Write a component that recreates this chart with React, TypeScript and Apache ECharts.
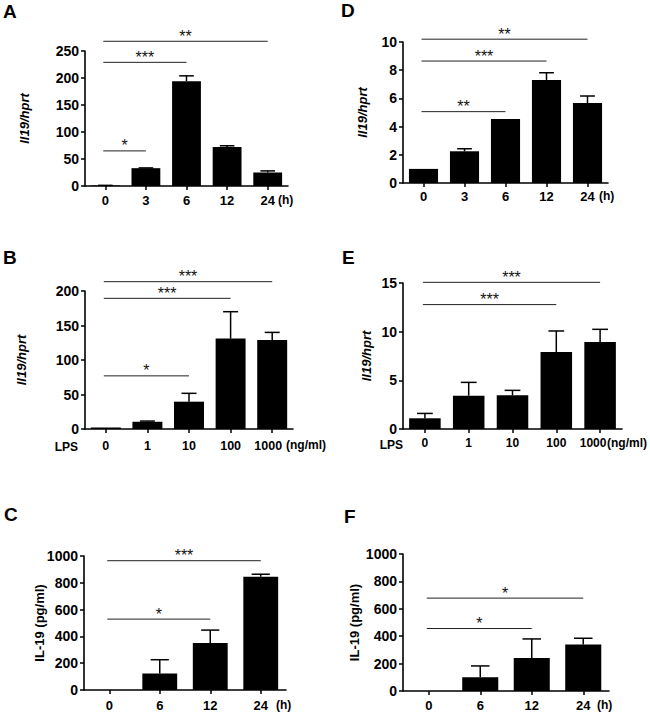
import React, { useEffect, useRef } from "react";
import * as echarts from "echarts";

// ---------- DATA ----------
const catsTime5 = ["0", "3", "6", "12", "24"];
const catsLps = ["0", "1", "10", "100", "1000"];
const catsTime4 = ["0", "6", "12", "24"];

const meanA = [1, 33, 194, 72, 25];
const upperA = [1.2, 33.5, 204, 74.5, 28];
const sigA: [number, number, number][] = [[0, 4, 268], [0, 2, 229], [0, 1, 65]];
const starsA = ["**", "***", "*"];

const meanD = [1.0, 2.25, 4.54, 7.3, 5.67];
const upperD = [1.0, 2.43, 4.54, 7.82, 6.17];
const sigD: [number, number, number][] = [[0, 4, 10.2], [0, 3, 8.65], [0, 2, 5.06]];
const starsD = ["**", "***", "**"];

const meanB = [2, 10.5, 39.6, 131, 129];
const upperB = [2, 11.5, 51.7, 170, 140];
const sigB: [number, number, number][] = [[0, 4, 213.5], [0, 3, 189.4], [0, 2, 77]];
const starsB = ["***", "***", "*"];

const meanE = [1.1, 3.42, 3.46, 7.91, 8.94];
const upperE = [1.6, 4.79, 3.97, 10.07, 10.24];
const sigE: [number, number, number][] = [[0, 4, 15.07], [0, 3, 12.78]];
const starsE = ["***", "***"];

const meanC = [0, 123, 350, 845];
const upperC = [0, 226, 447, 864];
const sigC: [number, number, number][] = [[0, 3, 965], [0, 2, 529]];
const starsC = ["***", "*"];

const meanF = [0, 100, 241, 339];
const upperF = [0, 183, 380, 385];
const sigF: [number, number, number][] = [[0, 3, 678], [0, 2, 456]];
const starsF = ["*", "*"];

const yTicksA = { max: 250, interval: 50 };
const yTicksD = { max: 10, interval: 2 };
const yTicksB = { max: 200, interval: 50 };
const yTicksE = { max: 15, interval: 5 };
const yTicksC = { max: 1000, interval: 200 };
const yTicksF = { max: 1000, interval: 200 };

const FONT = "'Liberation Sans', Arial, Helvetica, sans-serif";

type Panel = {
  letter: string;
  letterPos: [number, number];
  cats: string[];
  mean: number[];
  upper: number[];
  sig: [number, number, number][];
  stars: string[];
  yt: { max: number; interval: number };
  yName: string;
  italic: boolean;
  unit: string;
  unitGap: number;
  lps: boolean;
  lpsPos?: [number, number];
  grid: { left: number; top: number; width: number; height: number };
  nameGap: number;
  labelMargin: number;
  barWidth: string;
  labelSize: number;
  lastShift: number;
};

const panels: Panel[] = [
  {
    letter: "A", letterPos: [3, 2], cats: catsTime5, mean: meanA, upper: upperA, sig: sigA, stars: starsA,
    yt: yTicksA, yName: "Il19/hprt", italic: true, unit: "(h)", unitGap: -10, lps: false,
    grid: { left: 85, top: 51, width: 203, height: 135 }, nameGap: 54, labelMargin: 8, barWidth: "71%",
    labelSize: 13, lastShift: 0,
  },
  {
    letter: "D", letterPos: [341, 1], cats: catsTime5, mean: meanD, upper: upperD, sig: sigD, stars: starsD,
    yt: yTicksD, yName: "Il19/hprt", italic: true, unit: "(h)", unitGap: -9, lps: false,
    grid: { left: 403, top: 42, width: 205, height: 141 }, nameGap: 34, labelMargin: 7, barWidth: "71%",
    labelSize: 13, lastShift: 0,
  },
  {
    letter: "B", letterPos: [3, 248], cats: catsLps, mean: meanB, upper: upperB, sig: sigB, stars: starsB,
    yt: yTicksB, yName: "Il19/hprt", italic: true, unit: "(ng/ml)", unitGap: -7, lps: true, lpsPos: [78, 447],
    grid: { left: 85, top: 291, width: 208, height: 138 }, nameGap: 57, labelMargin: 10, barWidth: "72%",
    labelSize: 12.5, lastShift: 4,
  },
  {
    letter: "E", letterPos: [342, 248], cats: catsLps, mean: meanE, upper: upperE, sig: sigE, stars: starsE,
    yt: yTicksE, yName: "Il19/hprt", italic: true, unit: "(ng/ml)", unitGap: -15, lps: true, lpsPos: [403, 445],
    grid: { left: 403, top: 283, width: 219, height: 146 }, nameGap: 30, labelMargin: 8, barWidth: "72%",
    labelSize: 12, lastShift: 7,
  },
  {
    letter: "C", letterPos: [4, 505], cats: catsTime4, mean: meanC, upper: upperC, sig: sigC, stars: starsC,
    yt: yTicksC, yName: "IL-19 (pg/ml)", italic: false, unit: "(h)", unitGap: -10, lps: false,
    grid: { left: 84, top: 556, width: 202, height: 134 }, nameGap: 38, labelMargin: 9, barWidth: "69%",
    labelSize: 13, lastShift: 0,
  },
  {
    letter: "F", letterPos: [344, 507], cats: catsTime4, mean: meanF, upper: upperF, sig: sigF, stars: starsF,
    yt: yTicksF, yName: "IL-19 (pg/ml)", italic: false, unit: "(h)", unitGap: -12, lps: false,
    grid: { left: 403, top: 554, width: 206, height: 137 }, nameGap: 42, labelMargin: 8, barWidth: "70%",
    labelSize: 13, lastShift: 0,
  },
];

function buildOption() {
  const grid: any[] = [];
  const xAxis: any[] = [];
  const yAxis: any[] = [];
  const series: any[] = [];
  const graphic: any[] = [];

  panels.forEach((p, i) => {
    grid.push({ ...p.grid, outerBoundsMode: "none", containLabel: false });
    const lastIdx = p.cats.length - 1;
    xAxis.push({
      type: "category",
      gridIndex: i,
      data: p.cats,
      name: p.unit,
      nameLocation: "end",
      nameGap: p.unitGap,
      nameMoveOverlap: false,
      nameTextStyle: {
        fontFamily: FONT, fontWeight: "bold", fontSize: 12, color: "#000",
        align: "left", verticalAlign: "top", padding: [p.labelMargin, 0, 0, 0],
      },
      axisLine: { lineStyle: { color: "#000", width: 1.6 } },
      axisTick: { show: true, alignWithLabel: true, interval: 0, length: 4, lineStyle: { color: "#000", width: 1.5 } },
      axisLabel: {
        interval: 0,
        fontFamily: FONT, fontWeight: "bold", fontSize: p.labelSize, color: "#000", margin: p.labelMargin,
        hideOverlap: false,
        formatter: (v: string, idx: number) => (idx === lastIdx && p.lastShift > 0 ? `{s|${v}}` : v),
        rich: {
          s: {
            fontFamily: FONT, fontWeight: "bold", fontSize: p.labelSize, color: "#000",
            padding: [0, p.lastShift * 2, 0, 0],
          },
        },
      },
    });
    yAxis.push({
      type: "value",
      gridIndex: i,
      min: 0,
      max: p.yt.max,
      interval: p.yt.interval,
      name: p.yName,
      nameLocation: "middle",
      nameGap: p.nameGap,
      nameMoveOverlap: false,
      nameTextStyle: {
        fontFamily: FONT, fontWeight: "bold", fontStyle: p.italic ? "italic" : "normal", fontSize: 13, color: "#000",
      },
      splitLine: { show: false },
      axisLine: { show: true, lineStyle: { color: "#000", width: 1.6 } },
      axisTick: { show: true, length: 4, lineStyle: { color: "#000", width: 1.5 } },
      axisLabel: {
        fontFamily: FONT, fontWeight: "bold", fontSize: 14, color: "#000", margin: 6,
        formatter: (v: number) => String(v),
      },
    });

    series.push({
      type: "bar",
      xAxisIndex: i,
      yAxisIndex: i,
      data: p.mean,
      barWidth: p.barWidth,
      itemStyle: { color: "#000" },
      z: 2,
    });

    series.push({
      type: "custom",
      xAxisIndex: i,
      yAxisIndex: i,
      data: p.mean.map((m, k) => [k, m, p.upper[k]]),
      encode: { x: 0, y: [1, 2] },
      z: 3,
      renderItem: (params: any, api: any) => {
        const k = api.value(0);
        const m = api.value(1);
        const u = api.value(2);
        if (!(u > m)) return { type: "group", children: [] };
        const a = api.coord([k, m]);
        const b = api.coord([k, u]);
        const half = api.size([1, 0])[0] * 0.18;
        return {
          type: "group",
          children: [
            { type: "line", shape: { x1: a[0], y1: a[1], x2: b[0], y2: b[1] }, style: { stroke: "#000", lineWidth: 1.5 } },
            { type: "line", shape: { x1: b[0] - half, y1: b[1], x2: b[0] + half, y2: b[1] }, style: { stroke: "#000", lineWidth: 1.5 } },
          ],
        };
      },
    });

    const stars = p.stars;
    series.push({
      type: "custom",
      xAxisIndex: i,
      yAxisIndex: i,
      clip: false,
      data: p.sig,
      encode: { x: [0, 1], y: 2 },
      z: 4,
      renderItem: (params: any, api: any) => {
        const y = api.value(2);
        const a = api.coord([api.value(0), y]);
        const b = api.coord([api.value(1), y]);
        return {
          type: "group",
          children: [
            { type: "line", shape: { x1: a[0] - 2, y1: a[1], x2: b[0], y2: b[1] }, style: { stroke: "#222", lineWidth: 1 } },
            {
              type: "text",
              style: {
                text: stars[params.dataIndex], x: (a[0] - 2 + b[0]) / 2, y: a[1] + 3,
                align: "center", verticalAlign: "bottom", fill: "#111",
                font: `16px ${FONT}`,
              },
            },
          ],
        };
      },
    });

    graphic.push({
      type: "text", left: p.letterPos[0], top: p.letterPos[1],
      style: { text: p.letter, fill: "#000", font: `bold 19px ${FONT}` },
    });
    if (p.lps && p.lpsPos) {
      graphic.push({
        type: "text", x: p.lpsPos[0], y: p.lpsPos[1],
        style: { text: "LPS", fill: "#000", font: `bold 12px ${FONT}`, align: "right", verticalAlign: "middle" },
      });
    }
  });

  return { animation: false, backgroundColor: "#fff", grid, xAxis, yAxis, series, graphic };
}

export default function App() {
  const ref = useRef<HTMLDivElement>(null);
  useEffect(() => {
    if (!ref.current) return;
    const chart = echarts.init(ref.current, undefined, { renderer: "svg" });
    chart.setOption(buildOption() as any);
    return () => chart.dispose();
  }, []);
  return <div ref={ref} style={{ position: "absolute", left: 0, top: 0, width: 650, height: 713, background: "#fff" }} />;
}
